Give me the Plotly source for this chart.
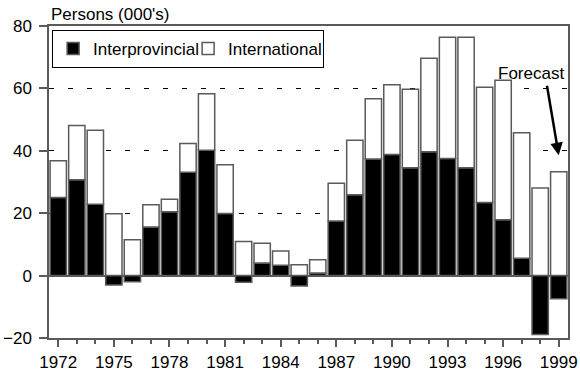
import plotly.graph_objects as go

years = list(range(1972, 2000))
interprovincial = [25.0, 30.7, 22.9, -3.0, -2.0, 15.6, 20.5, 33.1, 40.2, 19.9,
                   -2.1, 4.0, 3.3, -3.3, 0.8, 17.5, 25.9, 37.4, 38.8, 34.6,
                   39.7, 37.5, 34.6, 23.4, 17.9, 5.6, -18.9, -7.4]
international = [11.8, 17.4, 23.7, 19.8, 11.5, 7.1, 4.0, 9.2, 18.1, 15.6,
                 10.9, 6.4, 4.6, 3.5, 4.3, 12.1, 17.5, 19.3, 22.4, 25.1,
                 30.0, 38.9, 41.8, 37.0, 44.7, 40.2, 28.1, 33.3]
major_ticks = [1972, 1975, 1978, 1981, 1984, 1987, 1990, 1993, 1996, 1999]
y_ticks = [-20, 0, 20, 40, 60, 80]

FONT = "Liberation Sans, Arial, sans-serif"
EDGE = "#5a5a5a"

fig = go.Figure()
fig.add_trace(go.Bar(x=years, y=interprovincial, name="Interprovincial",
                     marker=dict(color="black", line=dict(color=EDGE, width=1.5))))
fig.add_trace(go.Bar(x=years, y=international, name="International",
                     marker=dict(color="white", line=dict(color=EDGE, width=1.5))))

fig.update_layout(
    width=580, height=374,
    margin=dict(l=48.7, r=11.7, t=26, b=35.7),
    barmode="relative", bargap=0.12,
    plot_bgcolor="white", paper_bgcolor="white",
    font=dict(family=FONT, size=17, color="black"),
    legend=dict(orientation="h", x=0.006, y=0.987, xanchor="left", yanchor="top",
                bordercolor="black", borderwidth=1, bgcolor="white",
                font=dict(size=17), itemwidth=30, tracegroupgap=0,
                entrywidth=90, entrywidthmode="pixels"),
    xaxis=dict(range=[1971.5, 1999.5], tickvals=major_ticks, ticks="outside",
               ticklen=7, tickcolor=EDGE, tickwidth=1.5, automargin=False,
               ticklabelstandoff=1,
               minor=dict(dtick=1, tick0=1972, ticks="outside", ticklen=4,
                          tickcolor=EDGE, tickwidth=1.5),
               showline=True, linecolor=EDGE, linewidth=1.5, mirror=True,
               showgrid=False, zeroline=False),
    yaxis=dict(range=[-20, 80], tickvals=y_ticks, ticks="outside", ticklen=8,
               tickcolor=EDGE, tickwidth=1.5, automargin=False,
               ticklabelstandoff=4,
               showline=True, linecolor=EDGE, linewidth=1.5, mirror=True,
               showgrid=True, gridcolor="black", gridwidth=1, griddash="5px,14px",
               zeroline=True, zerolinecolor=EDGE, zerolinewidth=1.5),
)

fig.add_annotation(text="Persons (000's)", xref="paper", yref="paper", x=0, y=1,
                   xanchor="left", yanchor="bottom", showarrow=False,
                   font=dict(size=17))
fig.add_annotation(text="Forecast", xref="x", yref="y", x=1997.5, y=64.9,
                   xanchor="center", yanchor="middle", showarrow=False,
                   font=dict(size=17))
fig.add_annotation(text="", xref="x", yref="y", x=1999, y=38.6,
                   ax=-12, ay=-71, showarrow=True, arrowhead=2, arrowsize=1,
                   arrowwidth=2.5, arrowcolor="black", standoff=0)

fig.write_html("out.html", config={"displayModeBar": False},
               post_script="document.body.style.margin='0';document.body.style.overflow='hidden';")
